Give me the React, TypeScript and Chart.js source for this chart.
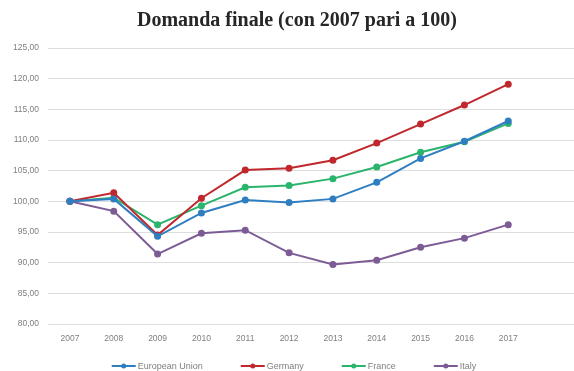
import React, { useEffect, useRef } from "react";
import { Chart, registerables } from "chart.js";

Chart.register(...registerables);

const TITLE = "Domanda finale (con 2007 pari a 100)";
const YEARS = ["2007", "2008", "2009", "2010", "2011", "2012", "2013", "2014", "2015", "2016", "2017", ""];
const EU = [100, 100.4, 94.3, 98.1, 100.2, 99.8, 100.4, 103.1, 107.0, 109.8, 113.1];
const GERMANY = [100, 101.4, 94.5, 100.5, 105.1, 105.4, 106.7, 109.5, 112.6, 115.7, 119.1];
const FRANCE = [100, 100.6, 96.2, 99.3, 102.3, 102.6, 103.7, 105.6, 108.0, 109.7, 112.7];
const ITALY = [100, 98.4, 91.4, 94.8, 95.3, 91.6, 89.7, 90.4, 92.5, 94.0, 96.2];
const SERIES_NAMES = ["European Union", "Germany", "France", "Italy"];
const COLORS = ["#2f7ec1", "#c0282d", "#2bb56c", "#7d5b95"];

const TICK_FONT = "'Liberation Sans', sans-serif";

export default function App() {
  const ref = useRef<HTMLCanvasElement>(null);
  useEffect(() => {
    const data = [EU, GERMANY, FRANCE, ITALY];
    const decorPlugin = {
      id: "decor",
      afterDraw(chart: any) {
        const ctx = chart.ctx;
        ctx.save();
        // title
        ctx.font = "bold 20px 'Liberation Serif', serif";
        ctx.fillStyle = "#262626";
        ctx.textAlign = "center";
        ctx.textBaseline = "middle";
        ctx.fillText(TITLE, 297, 21);
        // legend
        ctx.font = "9px " + TICK_FONT;
        ctx.textAlign = "left";
        const iconW = 24;
        const gapText = 2;
        const gapItem = 38;
        const widths = chart.data.datasets.map((ds: any) => ctx.measureText(ds.label).width);
        const total =
          widths.reduce((a: number, w: number) => a + iconW + gapText + w, 0) +
          gapItem * (widths.length - 1);
        let x = 294 - total / 2;
        const y = 366;
        chart.data.datasets.forEach((ds: any, i: number) => {
          ctx.strokeStyle = ds.borderColor;
          ctx.fillStyle = ds.borderColor;
          ctx.lineWidth = 2;
          ctx.beginPath();
          ctx.moveTo(x, y);
          ctx.lineTo(x + iconW, y);
          ctx.stroke();
          ctx.beginPath();
          ctx.arc(x + iconW / 2, y, 2.5, 0, Math.PI * 2);
          ctx.fill();
          ctx.fillStyle = "#7f7f7f";
          ctx.fillText(ds.label, x + iconW + gapText, y + 0.5);
          x += iconW + gapText + widths[i] + gapItem;
        });
        ctx.restore();
      },
    };
    const chart = new Chart(ref.current!, {
      type: "line",
      data: {
        labels: YEARS,
        datasets: data.map((d, i) => ({
          label: SERIES_NAMES[i],
          data: d,
          borderColor: COLORS[i],
          backgroundColor: COLORS[i],
          borderWidth: 2,
          pointRadius: 2.5,
          pointStyle: "circle",
          tension: 0,
        })),
      },
      options: {
        animation: false,
        responsive: false,
        layout: { padding: { top: 48, right: 0, left: 0, bottom: 23 } },
        plugins: {
          title: { display: false },
          tooltip: { enabled: false },
          legend: { display: false },
        },
        scales: {
          x: {
            offset: true,
            grid: { display: false, drawTicks: false },
            border: { display: false },
            ticks: {
              font: { size: 8.5, family: TICK_FONT },
              color: "#7f7f7f",
              padding: 10,
              maxRotation: 0,
              autoSkip: false,
            },
            afterFit: (s: any) => {
              s.height = 24;
            },
          },
          y: {
            min: 80,
            max: 125,
            grid: { color: "#dedede", lineWidth: 1, drawTicks: false },
            border: { display: false },
            ticks: {
              stepSize: 5,
              padding: 9,
              font: { size: 8.5, family: TICK_FONT },
              color: "#7f7f7f",
              callback: (v: any) => Number(v).toFixed(2).replace(".", ","),
            },
            afterFit: (s: any) => {
              s.width = 48;
            },
          },
        },
      },
      plugins: [decorPlugin],
    });
    return () => chart.destroy();
  }, []);
  return (
    <div
      style={{
        position: "fixed",
        left: 0,
        top: 0,
        width: 574,
        height: 371,
        overflow: "hidden",
        background: "#fff",
      }}
    >
      <canvas ref={ref} width={580} height={371} style={{ display: "block" }} />
    </div>
  );
}
